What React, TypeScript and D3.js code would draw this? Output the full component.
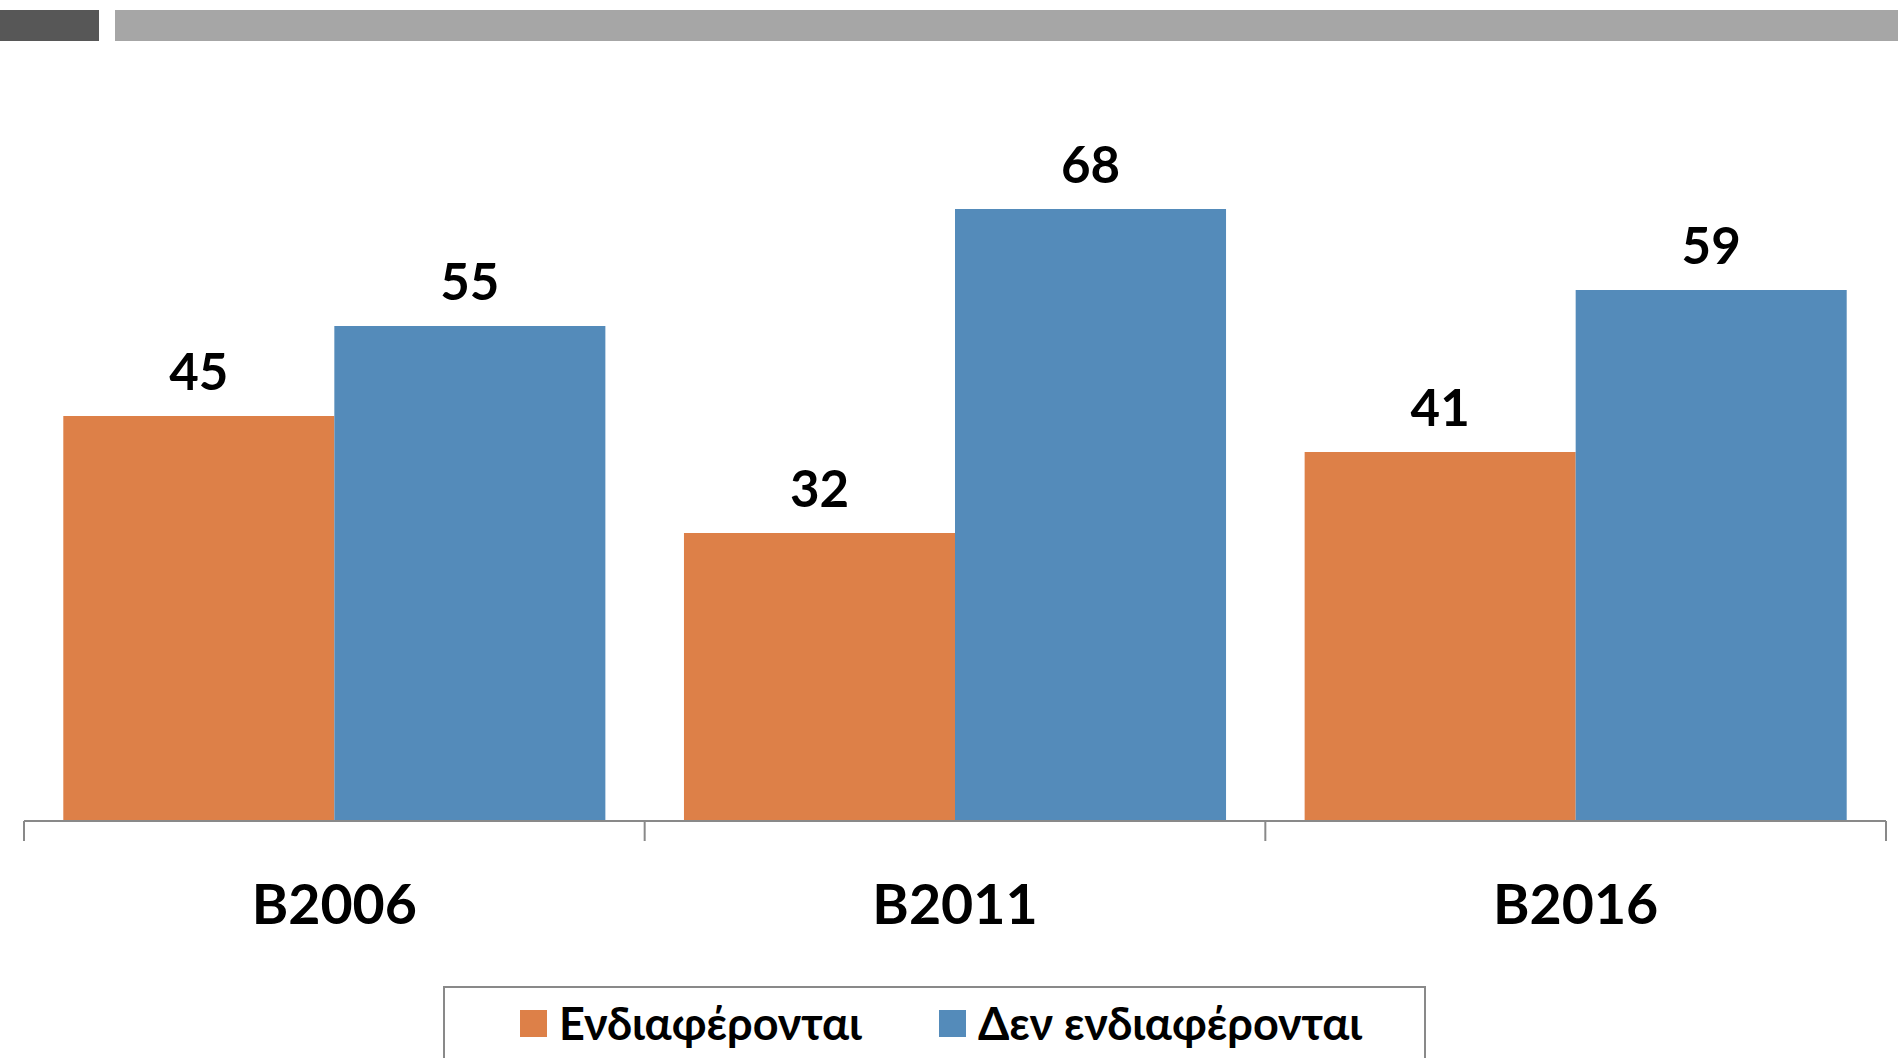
import React from "react";
import * as d3 from "d3";

const categories = ["B2006", "B2011", "B2016"];
const seriesNames = ["Ενδιαφέρονται", "Δεν ενδιαφέρονται"];
const interested = [45, 32, 41];
const notInterested = [55, 68, 59];
const seriesColors = ["#DD8048", "#548BBA"];

const W = 1898;
const H = 1058;
const FONT = "Lato, 'Open Sans', sans-serif";

export default function App() {
  const values = [interested, notInterested];
  const x = d3.scaleBand<string>().domain(categories).range([24, 1886]).paddingInner(0).paddingOuter(0);
  const xs = d3.scaleBand<string>().domain(seriesNames).range([0, x.bandwidth()]).paddingInner(0).paddingOuter(0.145);
  const y = d3.scaleLinear().domain([0, 80]).range([821, 101]);
  const y0 = y(0);
  const ticks = [...categories.map((c) => x(c) as number), 1886];

  return (
    <svg width={W} height={H} style={{ position: "absolute", left: 0, top: 0, background: "#fff" }} fontFamily={FONT}>
      <rect x={0} y={10} width={99} height={31} fill="#575757" />
      <rect x={115} y={10} width={W - 115} height={31} fill="#A6A6A6" />
      {seriesNames.map((s, si) =>
        categories.map((c, ci) => {
          const bx = (x(c) as number) + (xs(s) as number);
          const v = values[si][ci];
          return (
            <g key={s + c}>
              <rect x={bx} y={y(v)} width={xs.bandwidth()} height={y0 - y(v)} fill={seriesColors[si]} />
              <text x={bx + xs.bandwidth() / 2} y={y(v) - 26} textAnchor="middle" fontSize={51} fontWeight={700} fill="#000">
                {v}
              </text>
            </g>
          );
        })
      )}
      <line x1={24} x2={1886} y1={y0} y2={y0} stroke="#898989" strokeWidth={2} />
      {ticks.map((t, i) => (
        <line key={i} x1={t} x2={t} y1={y0} y2={y0 + 20} stroke="#898989" strokeWidth={2} />
      ))}
      {categories.map((c) => (
        <text key={c} x={(x(c) as number) + x.bandwidth() / 2} y={924} textAnchor="middle" fontSize={55.5} fontWeight={700} fill="#000">
          {c}
        </text>
      ))}
      <rect x={444} y={987} width={981} height={100} fill="none" stroke="#898989" strokeWidth={2} />
      <rect x={520} y={1010} width={27} height={27} fill={seriesColors[0]} />
      <text x={559} y={1040} fontSize={45} fontWeight={700} fill="#000">{seriesNames[0]}</text>
      <rect x={939} y={1010} width={27} height={27} fill={seriesColors[1]} />
      <text x={978} y={1040} fontSize={45} fontWeight={700} fill="#000">{seriesNames[1]}</text>
    </svg>
  );
}
